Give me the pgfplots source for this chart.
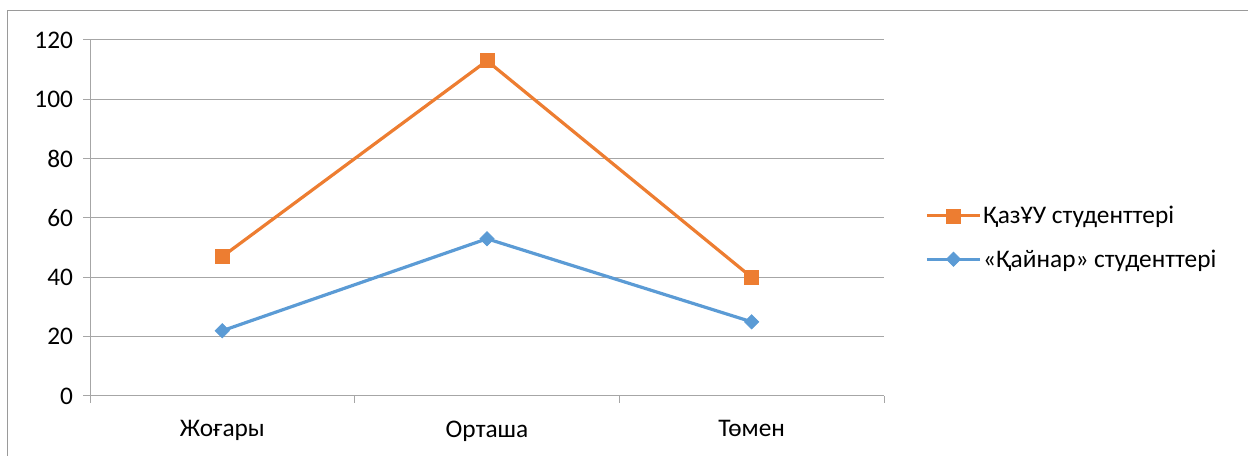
\documentclass[border=0pt]{standalone}
\usepackage{pgfplots}
\pgfplotsset{compat=1.18}
\usepackage{fontspec}
\setmainfont{Carlito}
\definecolor{orn}{HTML}{ED7D31}
\definecolor{blu}{HTML}{5B9BD5}
\definecolor{grd}{HTML}{A6A6A6}
\definecolor{frm}{HTML}{9A9A9A}
\begin{document}
\begin{tikzpicture}
\begin{axis}[
  name=ax,
  scale only axis,
  width=595.5pt, height=267pt,
  xmin=-0.5, xmax=2.5,
  ymin=0, ymax=120,
  ytick={0,20,...,120},
  xtick={-0.5,0.5,1.5,2.5},
  xticklabels={},
  extra x ticks={0,1,2},
  extra x tick labels={Жоғары,Орташа,Төмен},
  extra x tick style={major tick length=0pt, grid=none, xticklabel style={yshift=-15pt}},
  axis lines*=left,
  axis line style={draw=grd, line width=0.75pt},
  tick style={draw=grd, line width=0.75pt},
  major tick length=5.25pt,
  tick align=outside,
  ymajorgrids,
  grid style={draw=grd, line width=0.75pt},
  font=\fontsize{19}{22}\selectfont,
  /pgf/number format/assume math mode=true,
  yticklabel style={xshift=-4pt},
  legend style={draw=none, fill=none, at={(1.0516,0.445)}, anchor=west, inner sep=0pt,
    font=\fontsize{19}{22}\selectfont, row sep=16pt, nodes={inner sep=1pt}},
  legend cell align=left,
  legend image code/.code={\draw[#1, mark repeat=2, mark phase=2] plot coordinates {(0pt,0pt)(20pt,0pt)(40pt,0pt)};},
  clip=false,
]
\addplot[orn, line width=2.4pt, mark=square*, mark size=5.25pt, mark options={solid, line width=0.5pt}]
  coordinates {(0,47) (1,113) (2,40)};
\addlegendentry{ҚазҰУ студенттері}
\addplot[blu, line width=2.4pt, mark=square*, mark size=3.8pt, mark options={solid, line width=0.5pt, rotate=45}]
  coordinates {(0,22) (1,53) (2,25)};
\addlegendentry{«Қайнар» студенттері}
\end{axis}
\draw[frm, line width=0.75pt] ([xshift=-61.5pt,yshift=-60pt]ax.south west) -- ([xshift=-61.5pt,yshift=21.75pt]ax.north west) -- ([xshift=300pt,yshift=21.75pt]ax.north east);
\pgfresetboundingbox
\path[use as bounding box] ([xshift=-67.5pt,yshift=-45pt]ax.south west) rectangle ([xshift=273pt,yshift=30pt]ax.north east);
\end{tikzpicture}
\end{document}
